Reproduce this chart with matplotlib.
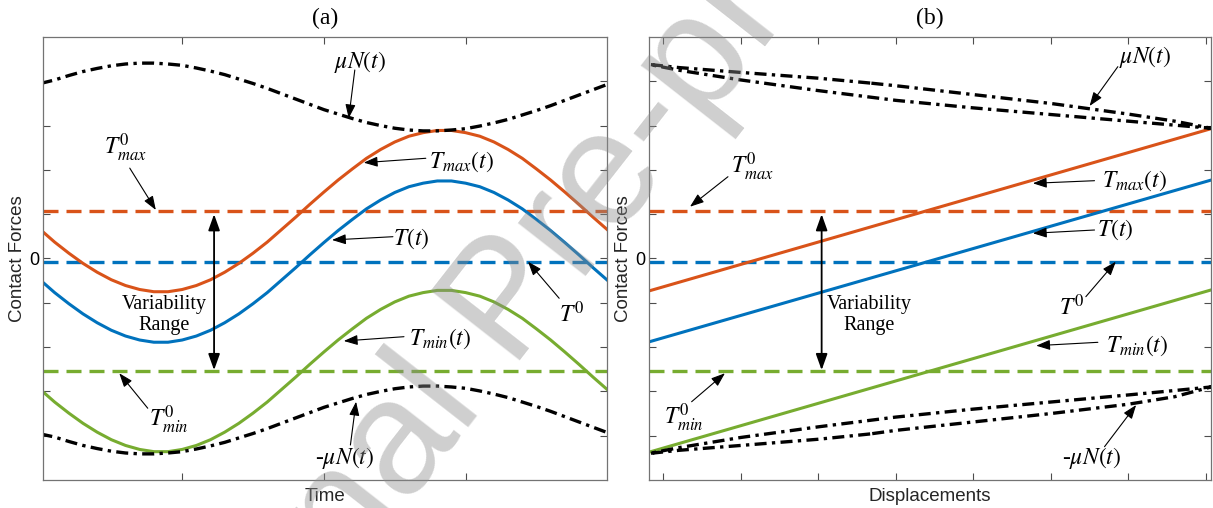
import matplotlib.pyplot as plt

plt.rcParams['font.family'] = 'Liberation Sans'
plt.rcParams['mathtext.fontset'] = 'stix'

blue = '#0072BD'
orange = '#D95319'
green = '#77AC30'

# ---------------- panel (a): forces against time ----------------
time = [0.0, 0.1, 0.2, 0.3, 0.4, 0.5, 0.6, 0.7, 0.8, 0.9,
        1.0, 1.1, 1.2, 1.3, 1.4, 1.5, 1.6, 1.7, 1.8, 1.9,
        2.0, 2.1, 2.2, 2.3, 2.4, 2.5, 2.6, 2.7, 2.8, 2.9,
        3.0, 3.1, 3.2, 3.3, 3.4, 3.5, 3.6, 3.7, 3.8, 3.9, 4.0]
mu_n_a = [3.95, 4.03, 4.13, 4.22, 4.29, 4.35, 4.39, 4.41, 4.41, 4.39,
          4.36, 4.30, 4.23, 4.15, 4.05, 3.95, 3.84, 3.72, 3.60, 3.48,
          3.36, 3.26, 3.16, 3.07, 3.00, 2.94, 2.90, 2.88, 2.88, 2.90,
          2.93, 2.99, 3.06, 3.14, 3.24, 3.34, 3.45, 3.57, 3.69, 3.81, 3.93]
neg_mu_n_a = [-3.96, -4.03, -4.13, -4.22, -4.29, -4.35, -4.39, -4.41, -4.41, -4.39,
              -4.36, -4.30, -4.23, -4.15, -4.05, -3.95, -3.84, -3.72, -3.60, -3.48,
              -3.36, -3.26, -3.16, -3.07, -3.00, -2.94, -2.90, -2.88, -2.88, -2.90,
              -2.93, -2.99, -3.06, -3.14, -3.24, -3.34, -3.45, -3.57, -3.69, -3.81, -3.93]
t_a = [-0.49, -0.77, -1.02, -1.25, -1.45, -1.62, -1.75, -1.84, -1.89, -1.89,
       -1.84, -1.75, -1.62, -1.45, -1.25, -1.02, -0.77, -0.49, -0.21, 0.08,
       0.36, 0.63, 0.88, 1.12, 1.32, 1.49, 1.62, 1.70, 1.75, 1.75,
       1.70, 1.62, 1.49, 1.32, 1.12, 0.88, 0.63, 0.36, 0.08, -0.21, -0.49]
t_max_a = [0.65, 0.37, 0.12, -0.11, -0.31, -0.48, -0.61, -0.70, -0.75, -0.75,
           -0.70, -0.61, -0.48, -0.31, -0.11, 0.12, 0.37, 0.65, 0.93, 1.22,
           1.50, 1.77, 2.02, 2.26, 2.46, 2.63, 2.76, 2.84, 2.89, 2.89,
           2.84, 2.76, 2.63, 2.46, 2.26, 2.02, 1.77, 1.50, 1.22, 0.93, 0.65]
t_min_a = [-2.96, -3.24, -3.49, -3.72, -3.92, -4.09, -4.22, -4.31, -4.36, -4.36,
           -4.31, -4.22, -4.09, -3.92, -3.72, -3.49, -3.24, -2.96, -2.68, -2.39,
           -2.11, -1.84, -1.59, -1.35, -1.15, -0.98, -0.85, -0.77, -0.72, -0.72,
           -0.77, -0.85, -0.98, -1.15, -1.35, -1.59, -1.84, -2.11, -2.39, -2.68, -2.96]

# reference levels (same in both panels)
t0_max = 1.07
t0 = -0.07
t0_min = -2.54

# ---------------- panel (b): forces against displacement ----------------
disp_ends = [-0.18, 7.07]
t_max_b = [-0.73, 2.93]
t_b = [-1.88, 1.77]
t_min_b = [-4.37, -0.71]

disp_loop = [2.67, 2.0, 1.0, 0.2, -0.18, 0.2, 1.0, 2.0, 3.0, 4.0, 5.0,
             6.0, 6.6, 7.07, 6.6, 6.0, 5.0, 4.0, 3.0, 2.67]
mu_n_b = [3.96, 4.07, 4.20, 4.31, 4.38, 4.25, 4.03, 3.79, 3.57, 3.40, 3.25,
          3.10, 3.01, 2.94, 3.10, 3.26, 3.50, 3.70, 3.90, 3.96]
neg_mu_n_b = [-3.96, -4.08, -4.22, -4.33, -4.40, -4.27, -4.04, -3.80, -3.58, -3.40, -3.24,
              -3.08, -2.98, -2.90, -3.12, -3.29, -3.50, -3.69, -3.88, -3.96]

y_ticks = [-4, -3, -2, -1, 0, 1, 2, 3, 4]

solid_lw = 2.2
dash_lw = 2.4
dash = (4.5, 2.4)
dashdot = (3.6, 1.6, 1.0, 1.6)
math_size = 17


def serif_text(ax, x, y, s, size=math_size):
    ax.text(x, y, s, ha='center', va='center', fontsize=size,
            family='Liberation Serif', zorder=6)


def arrow(ax, tail, tip):
    ax.annotate('', xy=tip, xytext=tail,
                arrowprops=dict(arrowstyle='-|>,head_length=0.6,head_width=0.22',
                                color='k', lw=0.8, shrinkA=0, shrinkB=0,
                                mutation_scale=14), zorder=6)


def range_arrow(ax, x):
    ax.annotate('', xy=(x, 1.0), xytext=(x, -2.52),
                arrowprops=dict(arrowstyle='<|-|>,head_length=0.7,head_width=0.25',
                                color='k', lw=1.3, shrinkA=0, shrinkB=0,
                                mutation_scale=14), zorder=6)


def style_axes(ax, xlabel, title):
    ax.set_ylim(-5, 5)
    ax.set_yticks(y_ticks)
    ax.set_yticklabels(['0' if v == 0 else '' for v in y_ticks])
    ax.set_xticklabels([])
    ax.tick_params(direction='in', top=True, right=True, length=5, width=0.8,
                   color='0.3', labelsize=13, pad=3)
    for sp in ax.spines.values():
        sp.set_color('0.45')
        sp.set_linewidth(0.9)
    ax.set_ylabel('Contact Forces', fontsize=13.5, labelpad=2, color='0.15')
    ax.set_xlabel(xlabel, fontsize=13.5, labelpad=3, color='0.15')
    ax.set_title(title, fontsize=17, family='Liberation Serif', pad=9)


fig = plt.figure(figsize=(12.13, 5.08), dpi=100)
axA = fig.add_axes([0.0357, 0.0551, 0.4650, 0.8721])
axB = fig.add_axes([0.5353, 0.0551, 0.4631, 0.8721])

# ---- panel (a)
axA.axhline(t0_max, color=orange, lw=dash_lw, dashes=dash)
axA.axhline(t0, color=blue, lw=dash_lw, dashes=dash)
axA.axhline(t0_min, color=green, lw=dash_lw, dashes=dash)
axA.plot(time, t_max_a, color=orange, lw=solid_lw)
axA.plot(time, t_a, color=blue, lw=solid_lw)
axA.plot(time, t_min_a, color=green, lw=solid_lw)
axA.plot(time, mu_n_a, color='k', lw=dash_lw, dashes=dashdot)
axA.plot(time, neg_mu_n_a, color='k', lw=dash_lw, dashes=dashdot)
axA.set_xlim(0.02, 4.0)
axA.set_xticks([1, 2, 3])

serif_text(axA, 2.257, 4.44, r'$\mu N(t)$')
arrow(axA, (2.218, 4.255), (2.175, 3.165))
serif_text(axA, 0.60, 2.49, r'$T^{0}_{max}$')
arrow(axA, (0.63, 2.04), (0.814, 1.095))
serif_text(axA, 2.97, 2.18, r'$T_{max}(t)$')
arrow(axA, (2.719, 2.262), (2.281, 2.163))
serif_text(axA, 2.618, 0.456, r'$T(t)$')
arrow(axA, (2.487, 0.492), (2.057, 0.418))
range_arrow(axA, 1.225)
serif_text(axA, 0.87, -1.275, 'Variability\nRange', size=14.5)
serif_text(axA, 0.906, -3.645, r'$T^{0}_{min}$')
arrow(axA, (0.757, -3.38), (0.556, -2.59))
serif_text(axA, 2.82, -1.817, r'$T_{min}(t)$')
arrow(axA, (2.565, -1.765), (2.14, -1.862))
serif_text(axA, 3.75, -1.253, r'$T^{0}$')
arrow(axA, (3.66, -0.898), (3.44, -0.072))
serif_text(axA, 2.147, -4.51, r'-$\mu N(t)$')
arrow(axA, (2.187, -4.21), (2.227, -3.232))
style_axes(axA, 'Time', '(a)')

# ---- panel (b)
axB.axhline(t0_max, color=orange, lw=dash_lw, dashes=dash)
axB.axhline(t0, color=blue, lw=dash_lw, dashes=dash)
axB.axhline(t0_min, color=green, lw=dash_lw, dashes=dash)
axB.plot(disp_ends, t_max_b, color=orange, lw=solid_lw)
axB.plot(disp_ends, t_b, color=blue, lw=solid_lw)
axB.plot(disp_ends, t_min_b, color=green, lw=solid_lw)
axB.plot(disp_loop, mu_n_b, color='k', lw=dash_lw, dashes=dashdot)
axB.plot(disp_loop, neg_mu_n_b, color='k', lw=dash_lw, dashes=dashdot)
axB.set_xlim(-0.18, 7.07)
axB.set_xticks([0, 1, 2, 3, 4, 5, 6, 7])

serif_text(axB, 6.222, 4.555, r'$\mu N(t)$')
arrow(axB, (5.867, 4.33), (5.502, 3.442))
serif_text(axB, 1.151, 2.065, r'$T^{0}_{max}$')
arrow(axB, (0.835, 1.846), (0.345, 1.169))
serif_text(axB, 6.086, 1.75, r'$T_{max}(t)$')
arrow(axB, (5.566, 1.756), (4.77, 1.697))
serif_text(axB, 5.835, 0.643, r'$T(t)$')
arrow(axB, (5.566, 0.643), (4.77, 0.569))
range_arrow(axB, 2.044)
serif_text(axB, 2.661, -1.275, 'Variability\nRange', size=14.5)
serif_text(axB, 0.261, -3.60, r'$T^{0}_{min}$')
arrow(axB, (0.366, -3.233), (0.796, -2.59))
serif_text(axB, 5.274, -1.095, r'$T^{0}$')
arrow(axB, (5.454, -0.862), (5.841, -0.072))
serif_text(axB, 6.119, -1.975, r'$T_{min}(t)$')
arrow(axB, (5.609, -1.892), (4.813, -1.968))
serif_text(axB, 5.525, -4.51, r'-$\mu N(t)$')
arrow(axB, (5.695, -4.248), (6.103, -3.307))
style_axes(axB, 'Displacements', '(b)')

# journal watermark over both panels
fig.text(0.42, 0.40, 'Journal Pre-proof', rotation=52, fontsize=118,
         color='0.55', alpha=0.42, ha='center', va='center', zorder=20)

fig.savefig('out.png', dpi=100)
